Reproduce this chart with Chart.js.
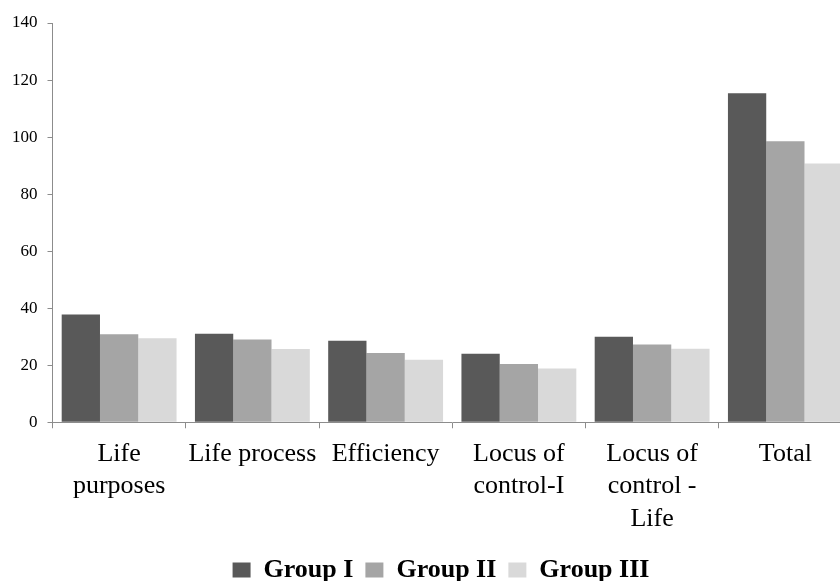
<!DOCTYPE html>
<html>
<head>
<meta charset="utf-8">
<script src="https://cdn.jsdelivr.net/npm/chart.js@4/dist/chart.umd.min.js"></script>
<style>
    html, body { margin: 0; padding: 0; background: #fff; overflow: hidden; }
    #wrap { width: 882px; height: 593px; position: relative; }
</style>
</head>
<body>
<div id="wrap"><canvas id="barChart"></canvas></div>
<script>
// 카테고리 / 시리즈 값
const categories = [
    ['Life', 'purposes'],
    'Life process',
    'Efficiency',
    ['Locus of', 'control-I'],
    ['Locus of', 'control -', 'Life'],
    'Total'
];
const groupI   = [37.8, 31.0, 28.6, 24.0, 30.0, 115.4];
const groupII  = [30.9, 29.0, 24.3, 20.4, 27.3, 98.5];
const groupIII = [29.5, 25.7, 21.9, 18.9, 25.8, 90.7];
const yTicks   = [0, 20, 40, 60, 80, 100, 120, 140];

const serif = "'Liberation Serif', 'Times New Roman', serif";
const axisColor = '#8c8c8c';

// 범례를 원본처럼 약간 오른쪽으로 이동
const legendShift = {
    id: 'legendShift',
    afterLayout(chart) {
        if (chart.legend) {
            chart.legend.left += 14;
            chart.legend.right += 14;
        }
    }
};

let barChart = new Chart(document.getElementById('barChart'), {
    type: 'bar',
    data: {
        labels: categories,
        datasets: [
            { label: 'Group I',   data: groupI,   backgroundColor: '#595959' },
            { label: 'Group II',  data: groupII,  backgroundColor: '#a5a5a5' },
            { label: 'Group III', data: groupIII, backgroundColor: '#d9d9d9' }
        ]
    },
    options: {
        responsive: true,
        maintainAspectRatio: false,
        animation: false,
        layout: {
            padding: { left: 2, right: 30, top: 23, bottom: 0 }
        },
        datasets: {
            bar: { categoryPercentage: 0.862, barPercentage: 1.0 }
        },
        plugins: {
            legend: {
                position: 'bottom',
                labels: {
                    color: '#000',
                    font: { family: serif, size: 26, weight: 'bold' },
                    boxWidth: 18,
                    boxHeight: 15,
                    padding: 12
                }
            },
            tooltip: { enabled: false }
        },
        scales: {
            x: {
                border: { color: axisColor, width: 1 },
                grid: {
                    drawOnChartArea: false,
                    tickLength: 6,
                    color: axisColor,
                    offset: true
                },
                ticks: {
                    color: '#000',
                    font: { family: serif, size: 26, lineHeight: 1.24 },
                    maxRotation: 0,
                    autoSkip: false,
                    padding: 10
                }
            },
            y: {
                min: 0,
                max: 140,
                border: { color: axisColor, width: 1 },
                grid: {
                    drawOnChartArea: false,
                    tickLength: 5,
                    color: axisColor
                },
                afterBuildTicks: function(scale) {
                    scale.ticks = yTicks.map(v => ({ value: v }));
                },
                ticks: {
                    color: '#000',
                    font: { family: serif, size: 17 },
                    padding: 10
                }
            }
        }
    },
    plugins: [legendShift]
});
</script>
</body>
</html>
